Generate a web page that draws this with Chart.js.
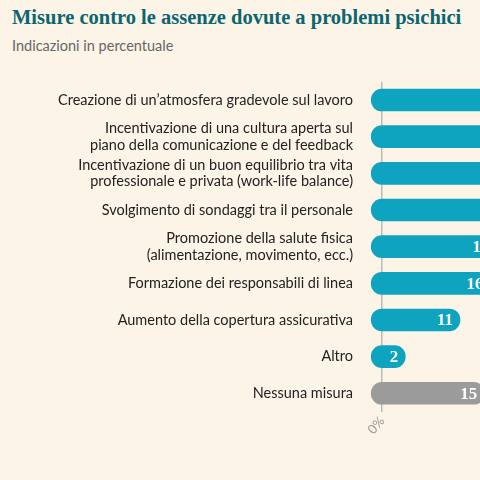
<!DOCTYPE html>
<html><head><meta charset="utf-8">
<script src="https://cdn.jsdelivr.net/npm/chart.js@4"></script>
<style>
html,body{margin:0;padding:0;background:#fcf4e7;overflow:hidden;width:480px;height:480px;}
#t{position:absolute;left:12px;top:6px;font:bold 20.5px "Liberation Serif",serif;color:#0b6670;white-space:nowrap;}
#s{position:absolute;left:12px;top:37px;font:14.5px Lato,sans-serif;color:#666;}
#w{position:absolute;left:0;top:0;width:700px;height:480px;}
</style></head><body>
<div id="t">Misure contro le assenze dovute a problemi psichici</div>
<div id="s">Indicazioni in percentuale</div>
<div id="w"><canvas id="c" width="700" height="480"></canvas></div>
<script>
const categories=[["Creazione di un’atmosfera gradevole sul lavoro"],["Incentivazione di una cultura aperta sul","piano della comunicazione e del feedback"],["Incentivazione di un buon equilibrio tra vita","professionale e privata (work-life balance)"],["Svolgimento di sondaggi tra il personale"],["Promozione della salute fisica","(alimentazione, movimento, ecc.)"],["Formazione dei responsabili di linea"],["Aumento della copertura assicurativa"],["Altro"],["Nessuna misura"]];
const values=[45,35,30,24,17,16,11,2,15];
const colors=["#0ea3be","#0ea3be","#0ea3be","#0ea3be","#0ea3be","#0ea3be","#0ea3be","#0ea3be","#9b9b9b"];
const pad=1.8;
const valLabels={id:'vl',afterDatasetsDraw(ch){const ctx=ch.ctx;const m=ch.getDatasetMeta(0);ctx.save();ctx.fillStyle='#fff';ctx.font='bold 17px "Liberation Serif",serif';ctx.textAlign='right';ctx.textBaseline='middle';m.data.forEach((b,i)=>{ctx.fillText(values[i],b.x-7,b.y+1);});ctx.restore();}};
new Chart(document.getElementById('c'),{type:'bar',
data:{labels:categories,datasets:[{data:values.map(v=>[-pad,v+pad]),backgroundColor:colors,barThickness:22,borderRadius:11,borderSkipped:false}]},
options:{indexAxis:'y',responsive:false,animation:false,layout:{padding:{top:81.7,right:13,left:0,bottom:0}},
plugins:{legend:{display:false},tooltip:{enabled:false}},
scales:{
x:{min:-2,max:50,afterFit(s){s.height=68.4;},border:{display:false},ticks:{stepSize:2,autoSkip:false,padding:2,color:'#999',font:{family:'Lato',size:13},callback:v=>v===0?'0%':''},grid:{drawTicks:false,color:c=>c.tick&&c.tick.value===0?'#bbb':'transparent',lineWidth:1.5}},
y:{afterFit(s){s.width=370;},border:{display:false},grid:{display:false},ticks:{padding:9,color:'#222',font:{family:'Lato',size:14.5,lineHeight:1.15}}}}},
plugins:[valLabels]});
</script></body></html>
